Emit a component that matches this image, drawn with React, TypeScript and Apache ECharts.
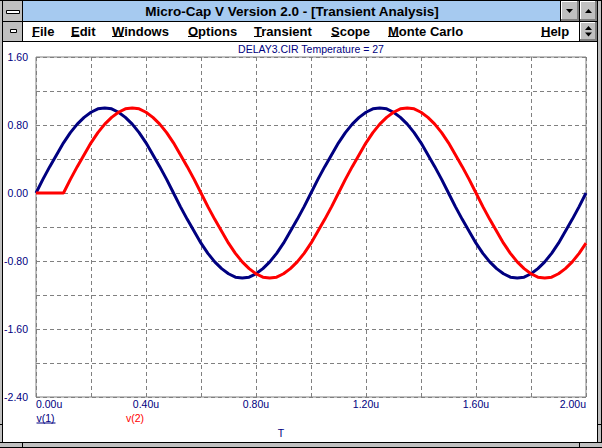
import React, { useEffect, useRef } from "react";
import * as echarts from "echarts";

// ---- data ----
const timeUs = [
  0, 0.025, 0.05, 0.075, 0.1, 0.125, 0.15, 0.175, 0.2, 0.225,
  0.25, 0.275, 0.3, 0.325, 0.35, 0.375, 0.4, 0.425, 0.45, 0.475,
  0.5, 0.525, 0.55, 0.575, 0.6, 0.625, 0.65, 0.675, 0.7, 0.725,
  0.75, 0.775, 0.8, 0.825, 0.85, 0.875, 0.9, 0.925, 0.95, 0.975,
  1.0, 1.025, 1.05, 1.075, 1.1, 1.125, 1.15, 1.175, 1.2, 1.225,
  1.25, 1.275, 1.3, 1.325, 1.35, 1.375, 1.4, 1.425, 1.45, 1.475,
  1.5, 1.525, 1.55, 1.575, 1.6, 1.625, 1.65, 1.675, 1.7, 1.725,
  1.75, 1.775, 1.8, 1.825, 1.85, 1.875, 1.9, 1.925, 1.95, 1.975,
  2.0,
];
const v1 = [
  0, 0.16, 0.31, 0.45, 0.59, 0.71, 0.81, 0.89, 0.95, 0.99,
  1.0, 0.99, 0.95, 0.89, 0.81, 0.71, 0.59, 0.45, 0.31, 0.16,
  0, -0.16, -0.31, -0.45, -0.59, -0.71, -0.81, -0.89, -0.95, -0.99,
  -1.0, -0.99, -0.95, -0.89, -0.81, -0.71, -0.59, -0.45, -0.31, -0.16,
  0, 0.16, 0.31, 0.45, 0.59, 0.71, 0.81, 0.89, 0.95, 0.99,
  1.0, 0.99, 0.95, 0.89, 0.81, 0.71, 0.59, 0.45, 0.31, 0.16,
  0, -0.16, -0.31, -0.45, -0.59, -0.71, -0.81, -0.89, -0.95, -0.99,
  -1.0, -0.99, -0.95, -0.89, -0.81, -0.71, -0.59, -0.45, -0.31, -0.16,
  0,
];
const v2 = [
  0, 0, 0, 0, 0, 0.16, 0.31, 0.45, 0.59, 0.71,
  0.81, 0.89, 0.95, 0.99, 1.0, 0.99, 0.95, 0.89, 0.81, 0.71,
  0.59, 0.45, 0.31, 0.16, 0, -0.16, -0.31, -0.45, -0.59, -0.71,
  -0.81, -0.89, -0.95, -0.99, -1.0, -0.99, -0.95, -0.89, -0.81, -0.71,
  -0.59, -0.45, -0.31, -0.16, 0, 0.16, 0.31, 0.45, 0.59, 0.71,
  0.81, 0.89, 0.95, 0.99, 1.0, 0.99, 0.95, 0.89, 0.81, 0.71,
  0.59, 0.45, 0.31, 0.16, 0, -0.16, -0.31, -0.45, -0.59, -0.71,
  -0.81, -0.89, -0.95, -0.99, -1.0, -0.99, -0.95, -0.89, -0.81, -0.71,
  -0.59,
];
const yTicks = { min: -2.4, max: 1.6, interval: 0.8 };
const xTicks = { min: 0, max: 2, interval: 0.4 };
const windowTitle = "Micro-Cap V Version 2.0 - [Transient Analysis]";
const chartTitle = "DELAY3.CIR Temperature = 27";
const menuItems = ["File", "Edit", "Windows", "Options", "Transient", "Scope", "Monte Carlo", "Help"];
const seriesNames = ["v(1)", "v(2)"];
const xAxisName = "T";

const FONT = "'Liberation Sans', Arial, sans-serif";
const NAVY = "#000080";
const RED = "#ff0000";
const GRAY = "#c0c0c0";
const DARK = "#808080";

const rect = (x: number, y: number, w: number, h: number, fill: string) => ({
  type: "rect",
  shape: { x, y, width: w, height: h },
  style: { fill },
  silent: true,
});

const text = (
  x: number,
  y: number,
  t: string,
  fill: string,
  size: number,
  weight: string,
  align: string = "left"
) => ({
  type: "text",
  x,
  y,
  style: {
    text: t,
    fill,
    fontSize: size,
    fontWeight: weight,
    fontFamily: FONT,
    textAlign: align,
    textVerticalAlign: "middle",
  },
  silent: true,
});

const tri = (cx: number, cy: number, up: boolean) => ({
  type: "polygon",
  shape: {
    points: up
      ? [[cx - 3.5, cy + 2], [cx + 3.5, cy + 2], [cx, cy - 2]]
      : [[cx - 3.5, cy - 2], [cx + 3.5, cy - 2], [cx, cy + 2]],
  },
  style: { fill: "#000" },
  silent: true,
});

const button = (x: number, y: number, w: number, h: number) => [
  rect(x, y, w, h, GRAY),
  rect(x, y, w - 1, 1, "#fff"),
  rect(x, y, 1, h - 1, "#fff"),
  rect(x, y + h - 2, w, 2, DARK),
  rect(x + w - 2, y, 2, h, DARK),
];

// menu item x positions and first letter widths (layout)
const menuX = [32, 71, 112, 188, 254, 331, 388, 541];
const firstW = [7.5, 8.5, 12, 10, 8, 8.5, 11, 9.5];

export default function App() {
  const ref = useRef<HTMLDivElement>(null);
  useEffect(() => {
    if (!ref.current) return;
    const chart = echarts.init(ref.current, undefined, { renderer: "svg" });

    const graphics: any[] = [];
    // frame
    graphics.push(rect(0, 0, 2, 448, GRAY));
    graphics.push(rect(2, 0, 1, 448, "#000"));
    graphics.push(rect(597, 0, 1, 448, "#000"));
    graphics.push(rect(598, 0, 3, 448, GRAY));
    graphics.push(rect(601, 0, 1, 448, "#000"));
    graphics.push(rect(0, 442, 602, 1, "#000"));
    graphics.push(rect(0, 443, 602, 4, GRAY));
    graphics.push(rect(0, 447, 602, 1, "#000"));
    graphics.push(rect(0, 0, 602, 1, "#000"));
    // corner notches
    graphics.push(rect(22, 442, 1, 6, "#000"));
    graphics.push(rect(579, 442, 1, 6, "#000"));
    graphics.push(rect(0, 424, 3, 1, "#000"));
    graphics.push(rect(597, 424, 5, 1, "#000"));
    // title bar
    graphics.push(rect(3, 1, 19, 20, GRAY));
    graphics.push(rect(22, 0, 1, 41, "#000"));
    graphics.push(rect(23, 1, 537, 20, "#a6caf0"));
    graphics.push(rect(560, 0, 1, 21, "#000"));
    graphics.push(...button(561, 1, 18, 20));
    graphics.push(rect(579, 0, 1, 41, "#000"));
    graphics.push(...button(580, 1, 17, 20));
    graphics.push(tri(569.5, 11, false));
    graphics.push(tri(588.5, 11, true));
    graphics.push({
      type: "rect",
      shape: { x: 6.5, y: 10.5, width: 13, height: 3 },
      style: { fill: "#fff", stroke: "#000", lineWidth: 1 },
      silent: true,
    });
    graphics.push(text(292, 11.5, windowTitle, "#000", 13.5, "bold", "center"));
    graphics.push(rect(3, 21, 594, 1, "#000"));
    // menu row
    graphics.push(rect(3, 22, 19, 19, GRAY));
    graphics.push({
      type: "rect",
      shape: { x: 10.5, y: 29.5, width: 6, height: 3 },
      style: { fill: "#fff", stroke: "#000", lineWidth: 1 },
      silent: true,
    });
    graphics.push(...button(580, 22, 17, 19));
    graphics.push(tri(588.5, 28, true));
    graphics.push(tri(588.5, 34.5, false));
    graphics.push(rect(3, 41, 594, 1, "#000"));
    menuItems.forEach((m, i) => {
      graphics.push(text(menuX[i], 31.5, m, "#000", 13, "bold"));
      graphics.push(rect(menuX[i], 36, firstW[i], 1, "#000"));
    });
    // chart texts
    graphics.push(text(311, 48.5, chartTitle, NAVY, 10.5, "normal", "center"));
    graphics.push(text(36.5, 418, seriesNames[0], NAVY, 10.5, "normal"));
    graphics.push(rect(36.5, 422.5, 19, 1, NAVY));
    graphics.push(text(126, 418, seriesNames[1], RED, 10.5, "normal"));
    graphics.push(text(281, 433, xAxisName, NAVY, 10.5, "normal", "center"));

    const dashed = { color: DARK, type: [4, 3] as any, width: 1 };

    chart.setOption({
      animation: false,
      backgroundColor: "#fff",
      grid: {
        left: 36,
        top: 57,
        width: 550,
        height: 340,
        show: true,
        borderColor: DARK,
        borderWidth: 1,
        backgroundColor: "transparent",
      },
      xAxis: {
        type: "value",
        min: xTicks.min,
        max: xTicks.max,
        interval: xTicks.interval,
        axisLine: { show: false },
        axisTick: { show: false },
        minorTick: { show: false, splitNumber: 2 },
        splitLine: { show: true, lineStyle: dashed },
        minorSplitLine: { show: true, lineStyle: dashed },
        axisLabel: {
          color: NAVY,
          fontSize: 10.5,
          fontFamily: FONT,
          margin: 1,
          alignMinLabel: "left",
          alignMaxLabel: "right",
          formatter: (v: number) => v.toFixed(2) + "u",
        },
      },
      yAxis: {
        type: "value",
        min: yTicks.min,
        max: yTicks.max,
        interval: yTicks.interval,
        axisLine: { show: false },
        axisTick: { show: false },
        minorTick: { show: false, splitNumber: 2 },
        splitLine: { show: true, lineStyle: dashed },
        minorSplitLine: { show: true, lineStyle: dashed },
        axisLabel: {
          color: NAVY,
          fontSize: 10.5,
          fontFamily: FONT,
          margin: 8,
          padding: [6, 0, 0, 0],
          formatter: (v: number) => v.toFixed(2),
        },
      },
      series: [
        {
          name: seriesNames[0],
          type: "line",
          data: timeUs.map((t, i) => [t, v1[i]]),
          showSymbol: false,
          lineStyle: { color: NAVY, width: 3 },
          itemStyle: { color: NAVY },
          z: 3,
        },
        {
          name: seriesNames[1],
          type: "line",
          data: timeUs.map((t, i) => [t, v2[i]]),
          showSymbol: false,
          lineStyle: { color: RED, width: 3 },
          itemStyle: { color: RED },
          z: 4,
        },
      ],
      graphic: graphics,
    });
    return () => chart.dispose();
  }, []);
  return (
    <div
      ref={ref}
      style={{ position: "absolute", left: 0, top: 0, width: 602, height: 448, background: "#fff" }}
    />
  );
}
